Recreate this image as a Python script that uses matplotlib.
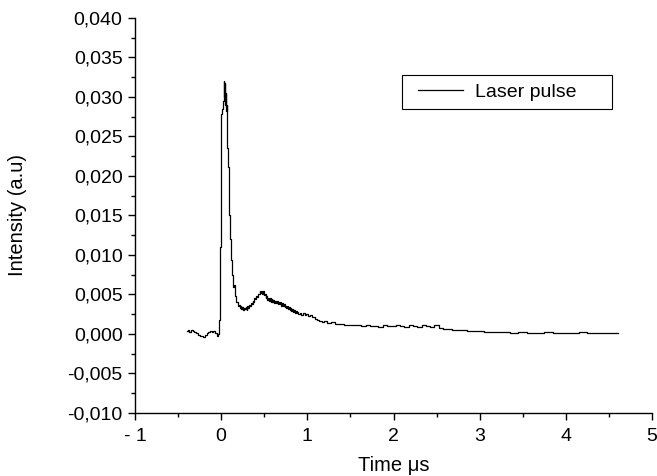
import matplotlib
matplotlib.use("Agg")
import matplotlib.pyplot as plt
from matplotlib.ticker import MultipleLocator, FuncFormatter
from matplotlib.patches import Rectangle

plt.rcParams['font.family'] = ['Liberation Sans', 'DejaVu Sans']

series_label = "Laser pulse"
x_label = "Time \u03bcs"
y_label = "Intensity (a.u)"

time_us = [
    -0.40, -0.38, -0.36, -0.34, -0.32, -0.30, -0.28, -0.26, -0.24, -0.22,
    -0.20, -0.18, -0.16, -0.14, -0.12, -0.10, -0.08, -0.06, -0.04, -0.03,
    -0.02, -0.015, -0.01, 0.000, 0.005, 0.015, 0.025, 0.035, 0.040, 0.045,
    0.050, 0.055, 0.060, 0.065, 0.070, 0.075, 0.080, 0.085, 0.090, 0.095,
    0.100, 0.105, 0.110, 0.115, 0.120,
    0.13, 0.14, 0.15, 0.16, 0.17, 0.18, 0.19, 0.20, 0.21, 0.22,
    0.23, 0.24, 0.25, 0.26, 0.27, 0.28, 0.29, 0.30, 0.31, 0.32,
    0.33, 0.34, 0.35, 0.36, 0.37, 0.38, 0.39, 0.40, 0.41, 0.42,
    0.43, 0.44, 0.45, 0.46, 0.47, 0.48, 0.49, 0.50, 0.51, 0.52,
    0.53, 0.54, 0.55, 0.56, 0.57, 0.58, 0.59, 0.60, 0.61, 0.62,
    0.63, 0.64, 0.65, 0.66, 0.67, 0.68, 0.69, 0.70, 0.71, 0.72,
    0.73, 0.74, 0.75, 0.76, 0.77, 0.78, 0.79, 0.80, 0.81, 0.82,
    0.83, 0.84, 0.85, 0.86, 0.87, 0.88, 0.89, 0.90, 0.92, 0.94,
    0.96, 0.98, 1.00, 1.02, 1.04, 1.06, 1.08, 1.10, 1.12, 1.14,
    1.16, 1.18, 1.20, 1.25, 1.30, 1.35, 1.40, 1.45, 1.50, 1.55,
    1.60, 1.65, 1.70, 1.75, 1.80, 1.85, 1.90, 1.95, 2.00, 2.05,
    2.10, 2.15, 2.20, 2.25, 2.30, 2.35, 2.40, 2.45, 2.50, 2.55,
    2.60, 2.65, 2.70, 2.80, 2.90, 3.00, 3.10, 3.20, 3.30, 3.40,
    3.50, 3.60, 3.70, 3.80, 3.90, 4.00, 4.10, 4.20, 4.30, 4.40,
    4.50, 4.60,
]

intensity = [
    0.0004, 0.0005, 0.0003, 0.0005, 0.0004, 0.0002, 0.0001, -0.0001, -0.0003, -0.0002,
    -0.0004, -0.0001, 0.0001, 0.0003, 0.0004, 0.0002, 0.0004, 0.0001, -0.0002, 0.0000,
    0.0018, 0.0021, 0.0110, 0.0122, 0.0278, 0.0285, 0.0295, 0.0320, 0.0300, 0.0318,
    0.0290, 0.0305, 0.0282, 0.0290, 0.0270, 0.0235, 0.0215, 0.0212, 0.0190, 0.0150,
    0.0142, 0.0138, 0.0120, 0.0096, 0.0094,
    0.0075, 0.0060, 0.0062, 0.0049, 0.0048, 0.0040, 0.0041, 0.0035, 0.0037, 0.0033,
    0.0035, 0.0031, 0.0034, 0.0030, 0.0033, 0.0031, 0.0034, 0.0030, 0.0035, 0.0033,
    0.0037, 0.0035, 0.0039, 0.0038, 0.0042, 0.0041, 0.0045, 0.0044, 0.0048, 0.0047,
    0.0051, 0.0050, 0.0054, 0.0052, 0.0055, 0.0051, 0.0054, 0.0049, 0.0051, 0.0046,
    0.0048, 0.0043, 0.0046, 0.0042, 0.0045, 0.0040, 0.0044, 0.0040, 0.0043, 0.0039,
    0.0042, 0.0039, 0.0042, 0.0038, 0.0041, 0.0038, 0.0040, 0.0036, 0.0039, 0.0035,
    0.0038, 0.0034, 0.0036, 0.0033, 0.0035, 0.0032, 0.0034, 0.0030, 0.0033, 0.0029,
    0.0031, 0.0028, 0.0030, 0.0027, 0.0029, 0.0026, 0.0028, 0.0025, 0.0027, 0.0024,
    0.0026, 0.0024, 0.0025, 0.0023, 0.0024, 0.0021, 0.0022, 0.0019, 0.0018, 0.0016,
    0.0017, 0.0015, 0.0016, 0.0014, 0.0015, 0.0013, 0.0013, 0.0012, 0.0012, 0.0011,
    0.0011, 0.0010, 0.0011, 0.0010, 0.0010, 0.0009, 0.0011, 0.0010, 0.0010, 0.0011,
    0.0010, 0.0009, 0.0011, 0.0010, 0.0009, 0.0011, 0.0010, 0.0009, 0.0011, 0.0008,
    0.0006, 0.0006, 0.0005, 0.0005, 0.0004, 0.0004, 0.0003, 0.0003, 0.0002, 0.0001,
    0.0002, 0.0001, 0.0001, 0.0002, 0.0001, 0.0001, 0.0001, 0.0002, 0.0001, 0.0001,
    0.0001, 0.0001,
]

x_limits = (-1, 5)
y_limits = (-0.010, 0.040)

fig = plt.figure(figsize=(6.57, 4.76), dpi=100)
ax = fig.add_axes([0.2055, 0.1324, 0.7869, 0.8298])

ax.plot(time_us, intensity, color='black', linewidth=0.9, drawstyle='steps-mid',
        label=series_label)

ax.set_xlim(*x_limits)
ax.set_ylim(*y_limits)

ax.spines['top'].set_visible(False)
ax.spines['right'].set_visible(False)
ax.spines['left'].set_linewidth(1.0)
ax.spines['bottom'].set_linewidth(1.0)

ax.xaxis.set_major_locator(MultipleLocator(1))
ax.xaxis.set_minor_locator(MultipleLocator(0.5))
ax.yaxis.set_major_locator(MultipleLocator(0.005))
ax.yaxis.set_minor_locator(MultipleLocator(0.0025))

def xfmt(v, pos):
    s = f"{v:.0f}"
    return s.replace("-", "- ") if v < 0 else s

def yfmt(v, pos):
    s = f"{v:.3f}".replace(".", ",")
    if s.startswith("-0,000"):
        s = "0,000"
    return s

ax.xaxis.set_major_formatter(FuncFormatter(xfmt))
ax.yaxis.set_major_formatter(FuncFormatter(yfmt))

ax.tick_params(which='major', direction='out', length=5, width=1.0,
               labelsize=14, colors='black')
ax.tick_params(axis='x', which='major', pad=6)
ax.tick_params(axis='y', which='major', pad=4)
ax.tick_params(which='minor', direction='out', length=3, width=1.0)

ax.set_xlabel(x_label, fontsize=14.5)
ax.set_ylabel(y_label, fontsize=14.5)
ax.xaxis.set_label_coords(0.5, -0.134)
ax.xaxis.label.set_va('center')
ax.yaxis.set_label_coords(-0.228, 0.5)
ax.yaxis.label.set_va('center')

leg = ax.legend(loc='center left', bbox_to_anchor=(0.547, 0.813),
                borderaxespad=0, borderpad=0, fontsize=14, frameon=False,
                handlelength=2.3, handletextpad=0.65)
ax.add_patch(Rectangle((0.516, 0.770), 0.407, 0.086, transform=ax.transAxes,
                       fill=False, edgecolor='black', linewidth=0.8,
                       clip_on=False))

fig.savefig("out.png", dpi=100)
